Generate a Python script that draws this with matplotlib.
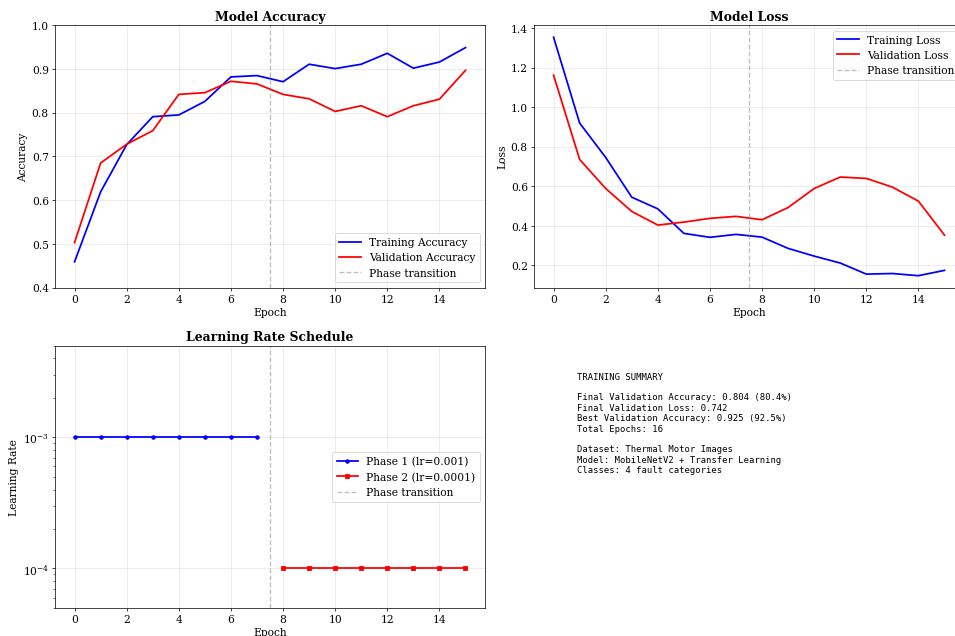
import matplotlib
matplotlib.use("Agg")
import matplotlib.pyplot as plt
import numpy as np

plt.rcParams['font.family'] = 'serif'
plt.rcParams['font.size'] = 12

epochs = np.arange(16)
train_acc = [0.459, 0.619, 0.727, 0.791, 0.795, 0.826, 0.882, 0.885,
             0.871, 0.911, 0.901, 0.911, 0.936, 0.902, 0.916, 0.949]
val_acc = [0.503, 0.685, 0.728, 0.759, 0.842, 0.846, 0.872, 0.866,
           0.842, 0.832, 0.803, 0.816, 0.791, 0.816, 0.831, 0.897]
train_loss = [1.354, 0.920, 0.746, 0.545, 0.486, 0.362, 0.342, 0.357,
              0.343, 0.286, 0.247, 0.212, 0.156, 0.159, 0.148, 0.175]
val_loss = [1.162, 0.736, 0.589, 0.473, 0.404, 0.419, 0.438, 0.448,
            0.431, 0.493, 0.589, 0.647, 0.640, 0.596, 0.525, 0.353]
phase1_epochs = list(range(0, 8))
phase1_lr = [0.001] * 8
phase2_epochs = list(range(8, 16))
phase2_lr = [0.0001] * 8
transition = 7.5

summary = """TRAINING SUMMARY

Final Validation Accuracy: 0.804 (80.4%)
Final Validation Loss: 0.742
Best Validation Accuracy: 0.925 (92.5%)
Total Epochs: 16

Dataset: Thermal Motor Images
Model: MobileNetV2 + Transfer Learning
Classes: 4 fault categories"""

W, H = 955, 636
fig = plt.figure(figsize=(15, 10), dpi=63.67)


def px_axes(left, top, width, height):
    return fig.add_axes([left / W, 1 - (top + height) / H, width / W, height / H])


ax1 = px_axes(55, 26, 430, 262)
ax2 = px_axes(534, 26, 430, 262)
ax3 = px_axes(55, 346, 430, 262)
ax4 = px_axes(534, 346, 430, 262)

# accuracy
ax1.plot(epochs, train_acc, 'b-', label='Training Accuracy', linewidth=2)
ax1.plot(epochs, val_acc, 'r-', label='Validation Accuracy', linewidth=2)
ax1.axvline(x=transition, color='gray', linestyle='--', alpha=0.5, label='Phase transition')
ax1.set_title('Model Accuracy', fontsize=14, fontweight='bold')
ax1.set_xlabel('Epoch')
ax1.set_ylabel('Accuracy')
ax1.set_ylim(0.4, 1.0)
ax1.legend(loc='lower right')
ax1.grid(True, alpha=0.3)

# loss
ax2.plot(epochs, train_loss, 'b-', label='Training Loss', linewidth=2)
ax2.plot(epochs, val_loss, 'r-', label='Validation Loss', linewidth=2)
ax2.axvline(x=transition, color='gray', linestyle='--', alpha=0.5, label='Phase transition')
ax2.set_title('Model Loss', fontsize=14, fontweight='bold')
ax2.set_xlabel('Epoch')
ax2.set_ylabel('Loss')
ax2.legend(loc='upper right')
ax2.grid(True, alpha=0.3)

# learning rate
ax3.plot(phase1_epochs, phase1_lr, 'b-o', label='Phase 1 (lr=0.001)', linewidth=2, markersize=4)
ax3.plot(phase2_epochs, phase2_lr, 'r-s', label='Phase 2 (lr=0.0001)', linewidth=2, markersize=4)
ax3.axvline(x=transition, color='gray', linestyle='--', alpha=0.5, label='Phase transition')
ax3.set_yscale('log')
ax3.set_ylim(5e-5, 5e-3)
ax3.set_title('Learning Rate Schedule', fontsize=14, fontweight='bold')
ax3.set_xlabel('Epoch')
ax3.set_ylabel('Learning Rate')
ax3.legend(loc='center right')
ax3.grid(True, alpha=0.3)

# summary text
ax4.axis('off')
ax4.text(0.1, 0.9, summary, transform=ax4.transAxes, fontsize=10,
         va='top', family='monospace')

fig.savefig('out.png', dpi=63.67)
